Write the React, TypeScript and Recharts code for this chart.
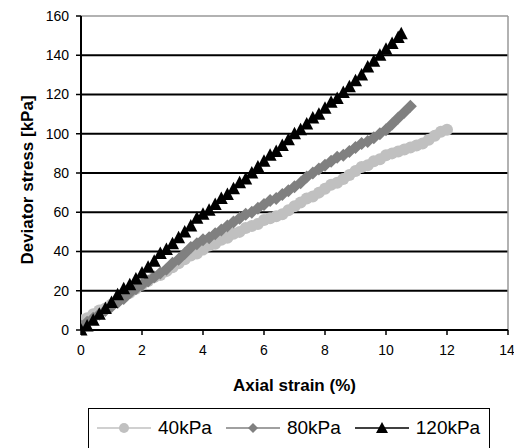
import React from 'react';
import {
  LineChart,
  Line,
  XAxis,
  YAxis,
  CartesianGrid,
  ReferenceLine,
  Label,
} from 'recharts';

// 40kPa confining pressure
const strain40 = [
  0.0, 0.2, 0.4, 0.6, 0.8, 1.0, 1.2, 1.4, 1.6, 1.8, 2.0, 2.2, 2.4, 2.6, 2.8, 3.0,
  3.2, 3.4, 3.6, 3.8, 4.0, 4.2, 4.4, 4.6, 4.8, 5.0, 5.2, 5.4, 5.6, 5.8, 6.0, 6.2,
  6.4, 6.6, 6.8, 7.0, 7.2, 7.4, 7.6, 7.8, 8.0, 8.2, 8.4, 8.6, 8.8, 9.0, 9.2, 9.4,
  9.6, 9.8, 10.0, 10.2, 10.4, 10.6, 10.8, 11.0, 11.2, 11.4, 11.6, 11.8, 12.0,
];
const stress40 = [
  5, 6, 8, 10, 11, 13, 15, 17, 19, 21, 23, 25, 27, 28, 30, 32,
  34, 36, 38, 39, 41, 43, 44, 46, 47, 49, 50, 52, 53, 54, 56, 57,
  58, 59, 61, 63, 65, 67, 68, 70, 72, 74, 75, 77, 79, 81, 83, 84,
  86, 87, 89, 90, 91, 92, 93, 94, 95, 97, 99, 101, 102,
];

// 80kPa
const strain80 = [
  0.0, 0.2, 0.4, 0.6, 0.8, 1.0, 1.2, 1.4, 1.6, 1.8, 2.0, 2.2, 2.4, 2.6, 2.8, 3.0,
  3.2, 3.4, 3.6, 3.8, 4.0, 4.2, 4.4, 4.6, 4.8, 5.0, 5.2, 5.4, 5.6, 5.8, 6.0, 6.2,
  6.4, 6.6, 6.8, 7.0, 7.2, 7.4, 7.6, 7.8, 8.0, 8.2, 8.4, 8.6, 8.8, 9.0, 9.2, 9.4,
  9.6, 9.8, 10.0, 10.2, 10.4, 10.6, 10.8,
];
const stress80 = [
  2, 4, 6, 8, 10, 12, 14, 16, 19, 21, 23, 25, 27, 29, 31, 34,
  36, 39, 42, 44, 46, 47, 49, 51, 53, 55, 57, 59, 60, 62, 64, 66,
  67, 69, 71, 73, 75, 78, 80, 82, 84, 86, 88, 89, 91, 93, 95, 96,
  98, 100, 102, 105, 108, 111, 114,
];

// 120kPa
const strain120 = [
  0.0, 0.2, 0.4, 0.6, 0.8, 1.0, 1.2, 1.4, 1.6, 1.8, 2.0, 2.2, 2.4, 2.6, 2.8, 3.0,
  3.2, 3.4, 3.6, 3.8, 4.0, 4.2, 4.4, 4.6, 4.8, 5.0, 5.2, 5.4, 5.6, 5.8, 6.0, 6.2,
  6.4, 6.6, 6.8, 7.0, 7.2, 7.4, 7.6, 7.8, 8.0, 8.2, 8.4, 8.6, 8.8, 9.0, 9.2, 9.4,
  9.6, 9.8, 10.0, 10.2, 10.4, 10.5,
];
const stress120 = [
  0, 2, 5, 8, 11, 14, 18, 21, 23, 26, 29, 32, 35, 39, 41, 44,
  47, 50, 53, 57, 59, 61, 64, 67, 69, 72, 75, 77, 80, 83, 86, 89,
  91, 94, 97, 100, 102, 105, 108, 110, 113, 116, 118, 121, 124, 127, 130, 134,
  137, 140, 143, 146, 149, 151,
];

const xTicks = [0, 2, 4, 6, 8, 10, 12, 14];
const yTicks = [0, 20, 40, 60, 80, 100, 120, 140, 160];
const gridValues = [20, 40, 60, 80, 100, 120, 140];

const zip = (xs: number[], ys: number[]) => xs.map((x, i) => ({ x, y: ys[i] }));

const FONT = '"Liberation Sans", Arial, sans-serif';

const circleDot = (color: string) => (p: any) => (
  <circle key={`c${p.index}`} cx={p.cx} cy={p.cy} r={6} fill={color} stroke="none" />
);
const diamondDot = (color: string) => (p: any) => (
  <polygon
    key={`d${p.index}`}
    points={`${p.cx},${p.cy - 6.5} ${p.cx + 6.5},${p.cy} ${p.cx},${p.cy + 6.5} ${p.cx - 6.5},${p.cy}`}
    fill={color}
  />
);
const triangleDot = (color: string) => (p: any) => (
  <polygon
    key={`t${p.index}`}
    points={`${p.cx},${p.cy - 7} ${p.cx + 6.5},${p.cy + 5.5} ${p.cx - 6.5},${p.cy + 5.5}`}
    fill={color}
  />
);

const legendItems = [
  { name: '40kPa', color: '#c0c0c0', shape: 'circle' },
  { name: '80kPa', color: '#808080', shape: 'diamond' },
  { name: '120kPa', color: '#000000', shape: 'triangle' },
];

function LegendIcon({ color, shape }: { color: string; shape: string }) {
  return (
    <svg width={54} height={14} style={{ display: 'block' }}>
      <line x1={0} y1={7} x2={54} y2={7} stroke={color} strokeWidth={1.5} />
      {shape === 'circle' && <circle cx={27} cy={7} r={5} fill={color} />}
      {shape === 'diamond' && <polygon points="27,2 32,7 27,12 22,7" fill={color} />}
      {shape === 'triangle' && <polygon points="27,1 33,12 21,12" fill={color} />}
    </svg>
  );
}

export default function App() {
  return (
    <div
      style={{
        position: 'absolute',
        left: 0,
        top: 0,
        width: 514,
        height: 448,
        overflow: 'hidden',
        background: '#fff',
        fontFamily: FONT,
      }}
    >
      <LineChart width={514} height={448} margin={{ top: 16, right: 6, bottom: 48, left: 0 }}>
        <CartesianGrid horizontal vertical={false} horizontalValues={gridValues} stroke="#000" strokeWidth={1.8} />
        <ReferenceLine y={160} stroke="#999" strokeWidth={1.5} />
        <ReferenceLine x={14} stroke="#999" strokeWidth={1.5} />
        <XAxis
          type="number"
          dataKey="x"
          domain={[0, 14]}
          ticks={xTicks}
          allowDataOverflow
          height={70}
          axisLine={{ stroke: '#000', strokeWidth: 2 }}
          tickLine={{ stroke: '#000', strokeWidth: 1.5 }}
          tickSize={5}
          tickMargin={10}
          tick={{ fill: '#000', fontSize: 14, fontFamily: FONT }}
        >
          <Label
            content={(props: any) => {
              const vb = props.viewBox;
              return (
                <text
                  x={vb.x + vb.width / 2}
                  y={vb.y + 61}
                  textAnchor="middle"
                  fontSize={17}
                  fontWeight="bold"
                  fontFamily={FONT}
                  fill="#000"
                >
                  Axial strain (%)
                </text>
              );
            }}
          />
        </XAxis>
        <YAxis
          type="number"
          domain={[0, 160]}
          ticks={yTicks}
          width={81}
          axisLine={{ stroke: '#000', strokeWidth: 2 }}
          tickLine={{ stroke: '#000', strokeWidth: 1.5 }}
          tickSize={5}
          tickMargin={7}
          tick={{ fill: '#000', fontSize: 14, fontFamily: FONT }}
        >
          <Label
            content={(props: any) => {
              const vb = props.viewBox;
              const cx = 33;
              const cy = vb.y + vb.height / 2 + 7;
              return (
                <text
                  x={cx}
                  y={cy}
                  transform={`rotate(-90, ${cx}, ${cy})`}
                  textAnchor="middle"
                  fontSize={17}
                  fontWeight="bold"
                  fontFamily={FONT}
                  fill="#000"
                >
                  Deviator stress [kPa]
                </text>
              );
            }}
          />
        </YAxis>
        <Line
          data={zip(strain40, stress40)}
          dataKey="y"
          type="linear"
          stroke="#c0c0c0"
          strokeWidth={1.5}
          dot={circleDot('#c0c0c0')}
          isAnimationActive={false}
        />
        <Line
          data={zip(strain80, stress80)}
          dataKey="y"
          type="linear"
          stroke="#808080"
          strokeWidth={1.5}
          dot={diamondDot('#808080')}
          isAnimationActive={false}
        />
        <Line
          data={zip(strain120, stress120)}
          dataKey="y"
          type="linear"
          stroke="#000"
          strokeWidth={1.5}
          dot={triangleDot('#000')}
          isAnimationActive={false}
        />
      </LineChart>
      <div
        style={{
          position: 'absolute',
          left: 88,
          top: 408,
          width: 402,
          height: 46,
          border: '1.5px solid #000',
          display: 'flex',
          alignItems: 'flex-start',
          paddingTop: 8,
          paddingLeft: 8,
          boxSizing: 'border-box',
        }}
      >
        {legendItems.map((it, i) => (
          <div
            key={it.name}
            style={{ display: 'flex', alignItems: 'center', marginLeft: i === 0 ? 0 : 14 }}
          >
            <LegendIcon color={it.color} shape={it.shape} />
            <span style={{ fontSize: 19, marginLeft: 7, color: '#000', lineHeight: '22px' }}>{it.name}</span>
          </div>
        ))}
      </div>
    </div>
  );
}
